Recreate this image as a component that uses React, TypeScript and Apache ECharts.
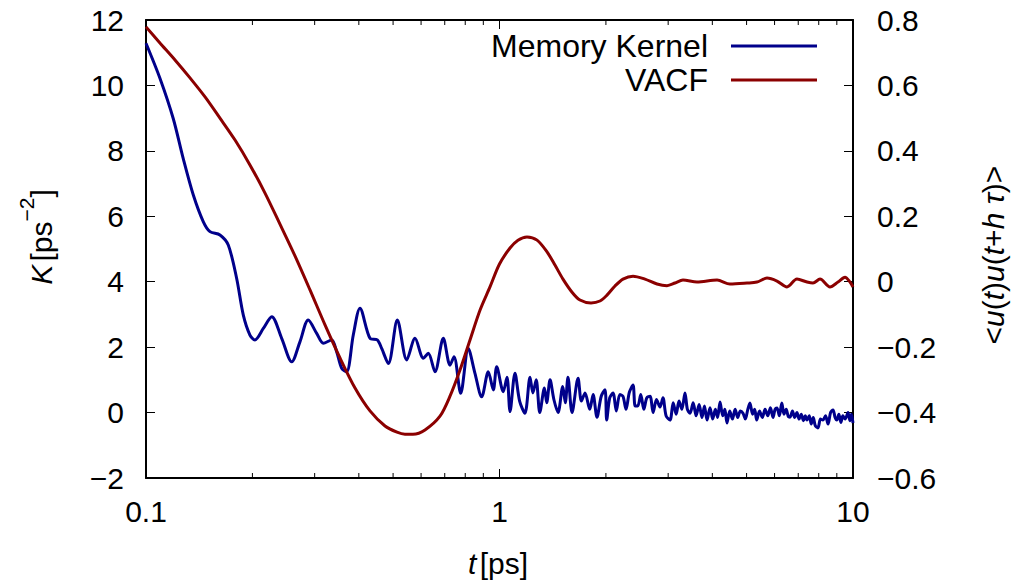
import React, { useEffect, useRef } from "react";
import * as echarts from "echarts";

// Memory kernel K(t) [ps^-2] (left axis)
const kernelPoints: [number, number][] = [
  [0.1, 11.29], [0.1095, 10.22], [0.1194, 8.99], [0.1274, 7.77], [0.1361, 6.65], [0.1453, 5.83],
  [0.1517, 5.53], [0.1619, 5.43], [0.1709, 5.12], [0.1805, 4.1], [0.1885, 2.98], [0.1968, 2.37],
  [0.2033, 2.22], [0.2147, 2.57], [0.2268, 2.93], [0.242, 2.27], [0.2584, 1.55], [0.2727, 2.17],
  [0.2877, 2.83], [0.304, 2.42], [0.3174, 2.12], [0.3352, 2.22], [0.3462, 1.86], [0.3578, 1.35],
  [0.3695, 1.25], [0.3858, 2.37], [0.403, 3.19], [0.4302, 2.27], [0.4511, 2.22], [0.4642, 1.96],
  [0.4848, 1.5], [0.5141, 2.83], [0.5464, 1.61], [0.5768, 2.27], [0.6089, 1.66], [0.6289, 1.81],
  [0.657, 1.25], [0.6934, 2.27], [0.7244, 1.45], [0.7436, 1.71], [0.7766, 0.59], [0.8161, 1.96],
  [0.8523, 1.2], [0.8904, 0.48], [0.9296, 1.25], [0.9605, 0.69], [0.982, 1.4], [1.025, 0.64],
  [1.05, 1.08], [1.071, 0.03], [1.106, 1.2], [1.14, 0.35], [1.18, -0.02], [1.22, 1.08],
  [1.243, 0.6], [1.27, 1.0], [1.3, 0.0], [1.34, 0.75], [1.36, 0.3], [1.39, 1.0],
  [1.425, 0.4], [1.464, 0.0], [1.51, 0.8], [1.535, 0.3], [1.562, 1.08], [1.604, 0.0],
  [1.668, 1.05], [1.705, 0.35], [1.746, 0.6], [1.8, 0.1], [1.84, 0.55], [1.887, -0.14],
  [1.94, 0.5], [1.988, 0.7], [2.01, -0.23], [2.05, 0.45], [2.095, 0.6], [2.14, 0.05],
  [2.19, 0.55], [2.235, 0.5], [2.28, 0.1], [2.33, 0.62], [2.386, 0.84], [2.42, 0.2],
  [2.46, 0.2], [2.51, 0.55], [2.56, 0.1], [2.61, 0.45], [2.666, 0.5], [2.72, 0.0],
  [2.78, 0.4], [2.844, 0.17], [2.9, 0.45], [2.96, -0.1], [3.036, -0.23], [3.1, 0.3],
  [3.16, -0.05], [3.22, 0.35], [3.28, 0.1], [3.347, 0.6], [3.4, 0.1], [3.46, -0.02],
  [3.53, 0.3], [3.6, -0.1], [3.67, 0.25], [3.74, -0.15], [3.8, 0.2], [3.864, -0.23],
  [3.94, 0.15], [4.01, -0.2], [4.08, 0.1], [4.14, -0.15], [4.206, 0.32], [4.28, -0.1],
  [4.34, 0.1], [4.4, -0.32], [4.48, 0.05], [4.56, -0.2], [4.64, 0.1], [4.72, -0.15],
  [4.8, 0.05], [4.885, -0.02], [4.96, -0.2], [5.04, 0.1], [5.11, 0.29], [5.2, -0.05],
  [5.27, 0.1], [5.34, -0.23], [5.44, 0.05], [5.54, -0.15], [5.64, 0.1], [5.74, -0.1],
  [5.84, 0.15], [5.94, -0.15], [6.02, 0.1], [6.095, 0.14], [6.19, -0.1], [6.29, 0.29],
  [6.38, -0.05], [6.47, 0.1], [6.56, -0.12], [6.635, -0.14], [6.74, 0.05], [6.84, -0.15],
  [6.94, 0.0], [7.04, -0.2], [7.14, -0.05], [7.24, -0.25], [7.33, -0.1], [7.41, -0.23],
  [7.52, -0.1], [7.62, -0.35], [7.72, -0.15], [7.82, -0.4], [7.96, -0.47], [8.09, -0.2],
  [8.22, -0.23], [8.36, -0.1], [8.5, -0.35], [8.64, 0.0], [8.78, 0.08], [8.9, -0.15],
  [9.0, -0.23], [9.12, -0.05], [9.24, -0.3], [9.36, -0.1], [9.5, -0.2], [9.68, 0.0],
  [9.8, -0.25], [9.9, -0.05], [10.0, -0.32],
];

// Velocity autocorrelation function (right axis)
const vacfPoints: [number, number][] = [
  [0.1, 0.779], [0.1095, 0.73], [0.1208, 0.678], [0.1332, 0.623], [0.1469, 0.565],
  [0.1619, 0.5], [0.1786, 0.433], [0.1968, 0.357], [0.2171, 0.271], [0.2393, 0.176],
  [0.2639, 0.079], [0.291, -0.025], [0.3209, -0.132], [0.3538, -0.233], [0.3902, -0.325],
  [0.4302, -0.395], [0.4744, -0.441], [0.5129, -0.46], [0.5403, -0.466], [0.569, -0.466],
  [0.6155, -0.453], [0.6787, -0.411], [0.7244, -0.35], [0.7731, -0.27], [0.8252, -0.178],
  [0.8806, -0.087], [0.9399, -0.016], [1.0, 0.054], [1.071, 0.103], [1.128, 0.127],
  [1.196, 0.137], [1.277, 0.127], [1.363, 0.091], [1.435, 0.051], [1.512, 0.008],
  [1.604, -0.032], [1.689, -0.056], [1.815, -0.065], [1.924, -0.059], [2.014, -0.041],
  [2.122, -0.013], [2.235, 0.008], [2.386, 0.017], [2.579, 0.008], [2.79, -0.007],
  [2.977, -0.012], [3.137, -0.004], [3.304, 0.005], [3.62, -0.001], [4.124, 0.005],
  [4.487, -0.007], [5.013, -0.004], [5.35, -0.001], [5.71, 0.011], [6.095, 0.002],
  [6.506, -0.016], [6.943, 0.008], [7.412, -0.001], [7.706, -0.004], [8.066, 0.008],
  [8.608, -0.016], [9.069, -0.001], [9.493, 0.014], [9.807, -0.001], [10.0, -0.016],
];

const minorTicks = [0.2, 0.3, 0.4, 0.5, 0.6, 0.7, 0.8, 0.9, 2, 3, 4, 5, 6, 7, 8, 9];
const seriesNames = ["Memory Kernel", "VACF"];

const FONT = "'Liberation Sans', Arial, Helvetica, sans-serif";
const FS = 30;

const fmtMinus = (v: number) => {
  const s = Math.abs(v) < 1e-9 ? "0" : String(Math.round(v * 10) / 10);
  return s.replace("-", "\u2212");
};

export default function App() {
  const ref = useRef<HTMLDivElement>(null);
  useEffect(() => {
    if (!ref.current) return;
    const chart = echarts.init(ref.current, undefined, { renderer: "svg" });
    const axisLine = { show: true, onZero: false, lineStyle: { color: "#000", width: 2 } };
    const tick = { show: true, inside: true, length: 9, lineStyle: { color: "#000", width: 1 } };
    const label = { color: "#000", fontSize: FS, fontFamily: FONT };
    chart.setOption({
      animation: false,
      backgroundColor: "#fff",
      grid: { left: 146, right: 158, top: 20, bottom: 104, containLabel: false },
      legend: {
        data: seriesNames,
        orient: "vertical",
        align: "right",
        right: 189,
        top: 24,
        itemWidth: 86,
        itemHeight: 3,
        itemGap: 0,
        icon: "rect",
        textStyle: {
          color: "#000",
          fontSize: 32,
          fontFamily: FONT,
          width: 240,
          align: "right",
          lineHeight: 34,
          padding: [0, 18, 0, 0],
        },
      },
      xAxis: [
        {
          type: "log",
          logBase: 10,
          min: 0.1,
          max: 10,
          position: "bottom",
          axisLine,
          axisTick: tick,
          splitLine: { show: false },
          axisLabel: { ...label, margin: 18, formatter: (v: number) => String(v) },
        },
        {
          type: "log",
          logBase: 10,
          min: 0.1,
          max: 10,
          position: "top",
          axisLine,
          axisTick: tick,
          splitLine: { show: false },
          axisLabel: { show: false },
        },
      ],
      yAxis: [
        {
          type: "value",
          min: -2,
          max: 12,
          interval: 2,
          position: "left",
          axisLine,
          axisTick: tick,
          splitLine: { show: false },
          axisLabel: { ...label, margin: 22, formatter: fmtMinus },
        },
        {
          type: "value",
          min: -0.6,
          max: 0.8,
          interval: 0.2,
          position: "right",
          axisLine,
          axisTick: tick,
          splitLine: { show: false },
          axisLabel: { ...label, margin: 24, align: "left", formatter: fmtMinus },
        },
      ],
      graphic: [
        {
          type: "text",
          x: 36,
          y: 237,
          rotation: Math.PI / 2,
          style: {
            text: "{i|K} {n|[ps}{s|\u22122}{n|]}",
            align: "center",
            verticalAlign: "middle",
            fill: "#000",
            rich: {
              i: { fontSize: FS, fontStyle: "italic", fontFamily: FONT, lineHeight: 40, verticalAlign: "bottom" },
              n: { fontSize: FS, fontFamily: FONT, lineHeight: 40, verticalAlign: "bottom" },
              s: { fontSize: 21, fontFamily: FONT, lineHeight: 22, verticalAlign: "top" },
            },
          },
        },
        {
          type: "text",
          x: 993,
          y: 255,
          rotation: Math.PI / 2,
          style: {
            text: "{n|<}{i|u}{n|(}{i|t}{n|)}{i|u}{n|(}{i|t}{n|+}{i|h \u03c4}{n|)>}",
            align: "center",
            verticalAlign: "middle",
            fill: "#000",
            rich: {
              i: { fontSize: FS, fontStyle: "italic", fontFamily: FONT },
              n: { fontSize: FS, fontFamily: FONT },
            },
          },
        },
        {
          type: "text",
          x: 498,
          y: 563,
          style: {
            text: "{i|t} {n|[ps]}",
            align: "center",
            verticalAlign: "middle",
            fill: "#000",
            rich: {
              i: { fontSize: FS, fontStyle: "italic", fontFamily: FONT },
              n: { fontSize: FS, fontFamily: FONT },
            },
          },
        },
      ],
      series: [
        {
          name: seriesNames[0],
          type: "line",
          xAxisIndex: 0,
          yAxisIndex: 0,
          data: kernelPoints,
          showSymbol: false,
          symbol: "none",
          smooth: 0.3,
          lineStyle: { color: "#00008b", width: 3 },
          itemStyle: { color: "#00008b" },
          z: 3,
        },
        {
          name: seriesNames[1],
          type: "line",
          xAxisIndex: 0,
          yAxisIndex: 1,
          data: vacfPoints,
          showSymbol: false,
          symbol: "none",
          smooth: 0.3,
          lineStyle: { color: "#8b0000", width: 3 },
          itemStyle: { color: "#8b0000" },
          z: 4,
        },
        {
          type: "custom",
          xAxisIndex: 0,
          yAxisIndex: 0,
          silent: true,
          clip: false,
          z: 10,
          data: minorTicks.map((t) => [t, -2]),
          renderItem: (_p: any, api: any) => {
            const t = api.value(0);
            const b = api.coord([t, -2]);
            const tp = api.coord([t, 12]);
            return {
              type: "group",
              children: [
                { type: "line", shape: { x1: b[0], y1: b[1], x2: b[0], y2: b[1] - 5 }, style: { stroke: "#000", lineWidth: 1 } },
                { type: "line", shape: { x1: tp[0], y1: tp[1], x2: tp[0], y2: tp[1] + 5 }, style: { stroke: "#000", lineWidth: 1 } },
              ],
            };
          },
        },
      ],
    });
    return () => chart.dispose();
  }, []);
  return (
    <div
      ref={ref}
      style={{ position: "fixed", left: 0, top: 0, width: 1011, height: 582, background: "#fff" }}
    />
  );
}
